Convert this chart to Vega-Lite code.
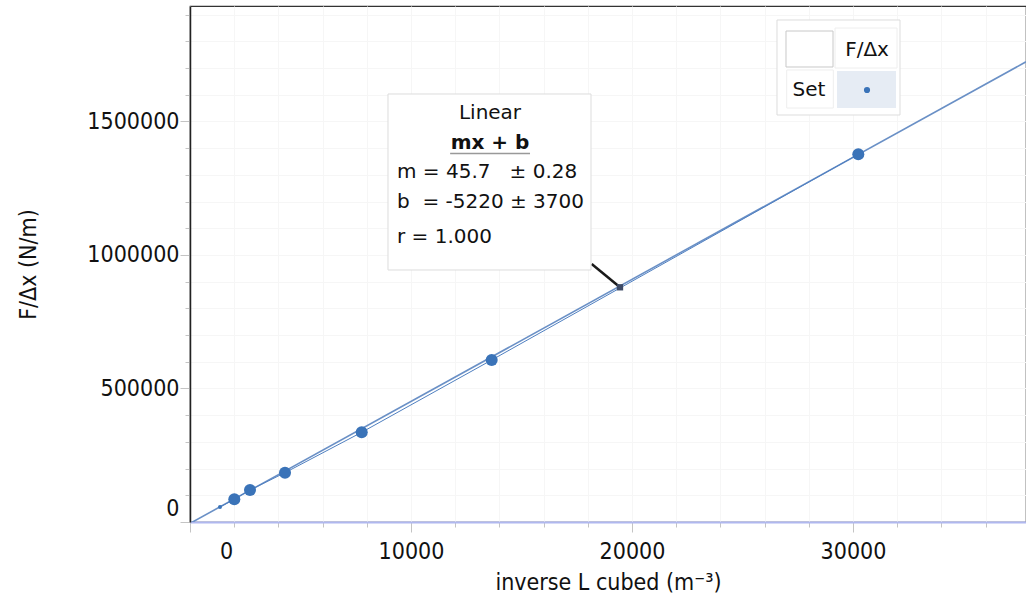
{
  "$schema": "https://vega.github.io/schema/vega-lite/v6.json",
  "width": 836,
  "height": 516,
  "autosize": {"type": "none"},
  "padding": {"left": 190, "top": 6, "right": 0, "bottom": 74},
  "background": "white",
  "config": {"view": {"stroke": "#333333", "strokeWidth": 1.2}, "font": "DejaVu Sans"},
  "encoding": {
    "x": {
      "field": "x", "type": "quantitative",
      "scale": {"domain": [0, 37828], "nice": false, "zero": false},
      "axis": {
        "title": "inverse L cubed (m⁻³)",
        "values": [0, 2000, 4000, 6000, 8000, 10000, 12000, 14000, 16000, 18000, 20000, 22000, 24000, 26000, 28000, 30000, 32000, 34000, 36000],
        "format": "d",
        "labelExpr": "datum.value % 10000 === 0 ? datum.label : ''",
        "labelOverlap": false,
        "labelFlush": false,
        "labelOffset": {"condition": {"test": "datum.value === 0", "value": 36}, "value": 0},
        "labelFont": "DejaVu Sans Condensed", "labelFontSize": 23, "labelColor": "#111111",
        "labelPadding": 8,
        "tickSize": {"condition": {"test": "datum.value % 10000 === 0", "value": 10}, "value": 5},
        "tickColor": "#c4c4c4",
        "domainColor": "#b0b8f0", "domainWidth": 2,
        "grid": true, "gridColor": "#f6f6f6",
        "titleFont": "DejaVu Sans Condensed", "titleFontSize": 23, "titleFontWeight": "normal", "titleColor": "#111111",
        "titlePadding": 8
      }
    },
    "y": {
      "field": "y", "type": "quantitative",
      "scale": {"domain": [0, 1932575], "nice": false, "zero": false},
      "axis": {
        "title": "F/Δx (N/m)",
        "values": [0, 100000, 200000, 300000, 400000, 500000, 600000, 700000, 800000, 900000, 1000000, 1100000, 1200000, 1300000, 1400000, 1500000, 1600000, 1700000, 1800000, 1900000],
        "format": "d",
        "labelExpr": "datum.value % 500000 === 0 ? datum.label : ''",
        "labelOverlap": false,
        "labelFlush": false,
        "labelOffset": {"condition": {"test": "datum.value === 0", "value": -14}, "value": 0},
        "labelFont": "DejaVu Sans Condensed", "labelFontSize": 23, "labelColor": "#111111",
        "labelPadding": 1,
        "tickSize": {"condition": {"test": "datum.value % 500000 === 0", "value": 10}, "value": 5},
        "tickColor": "#c4c4c4",
        "domainColor": "#222222", "domainWidth": 1.5,
        "grid": true, "gridColor": "#f6f6f6",
        "titleFont": "DejaVu Sans Condensed", "titleFontSize": 23, "titleFontWeight": "normal", "titleColor": "#111111",
        "titlePadding": 46
      }
    }
  },
  "layer": [
    {
      "data": {"values": [{"x": 0, "y": -5220}, {"x": 37828, "y": 1723520}]},
      "mark": {"type": "line", "color": "#6a90c6", "strokeWidth": 1.6, "clip": true}
    },
    {
      "data": {"values": [
        {"x": 1357, "y": 56180},
        {"x": 2005, "y": 85000},
        {"x": 2715, "y": 119850},
        {"x": 4299, "y": 184643},
        {"x": 7769, "y": 335953},
        {"x": 13651, "y": 606739},
        {"x": 30240, "y": 1377148}
      ]},
      "mark": {"type": "line", "color": "#4f7fc0", "strokeWidth": 1, "clip": true}
    },
    {
      "data": {"values": [
        {"x": 2005, "y": 85000},
        {"x": 2715, "y": 119850},
        {"x": 4299, "y": 184643},
        {"x": 7769, "y": 335953},
        {"x": 13651, "y": 606739},
        {"x": 30240, "y": 1377148}
      ]},
      "mark": {"type": "circle", "size": 145, "color": "#3a73b8", "opacity": 1}
    },
    {
      "data": {"values": [{"x": 1357, "y": 56180}]},
      "mark": {"type": "circle", "size": 16, "color": "#3a73b8", "opacity": 1}
    },
    {
      "data": {"values": [{"x": 18177, "y": 966287}, {"x": 19457, "y": 879023}]},
      "mark": {"type": "line", "color": "#1a1a1a", "strokeWidth": 2.5}
    },
    {
      "data": {"values": [{"x": 19457, "y": 879023}]},
      "mark": {"type": "point", "shape": "square", "filled": true, "size": 40, "color": "#3d4a66", "opacity": 1}
    },
    {
      "data": {"values": [{"x": 8959, "x2": 18145, "y": 1603000, "y2": 943816}]},
      "mark": {"type": "rect", "fill": "white", "stroke": "#dddddd", "strokeWidth": 1},
      "encoding": {"x2": {"field": "x2"}, "y2": {"field": "y2"}}
    },
    {
      "data": {"values": [{"x": 13575, "y": 1531828, "t": "Linear"}]},
      "mark": {"type": "text", "font": "DejaVu Sans", "fontSize": 20, "align": "center", "baseline": "middle", "color": "#111111"},
      "encoding": {"text": {"field": "t"}}
    },
    {
      "data": {"values": [{"x": 13575, "y": 1419469, "t": "mx + b"}]},
      "mark": {"type": "text", "font": "DejaVu Sans", "fontSize": 20, "fontWeight": "bold", "align": "center", "baseline": "middle", "color": "#111111"},
      "encoding": {"text": {"field": "t"}}
    },
    {
      "data": {"values": [{"x": 11770, "x2": 15385, "y": 1380143}]},
      "mark": {"type": "rule", "color": "#999999", "strokeWidth": 1.5},
      "encoding": {"x2": {"field": "x2"}}
    },
    {
      "data": {"values": [
        {"x": 9367, "y": 1312000, "t": "m = 45.7\u00a0\u00a0\u00a0± 0.28"},
        {"x": 9367, "y": 1199600, "t": "b\u00a0\u00a0= -5220 ± 3700"},
        {"x": 9367, "y": 1068500, "t": "r = 1.000"}
      ]},
      "mark": {"type": "text", "font": "DejaVu Sans", "fontSize": 20, "align": "left", "baseline": "middle", "color": "#111111"},
      "encoding": {"text": {"field": "t"}}
    },
    {
      "data": {"values": [{"x": 26561, "x2": 32127, "y": 1880141, "y2": 1524337}]},
      "mark": {"type": "rect", "fill": "white", "stroke": "#dddddd", "strokeWidth": 1},
      "encoding": {"x2": {"field": "x2"}, "y2": {"field": "y2"}}
    },
    {
      "data": {"values": [
        {"x": 29186, "x2": 31991, "y": 1850178, "y2": 1700366},
        {"x": 27000, "x2": 29109, "y": 1692876, "y2": 1550554}
      ]},
      "mark": {"type": "rect", "fill": "white", "stroke": "#eeeeee", "strokeWidth": 1},
      "encoding": {"x2": {"field": "x2"}, "y2": {"field": "y2"}}
    },
    {
      "data": {"values": [{"x": 26968, "x2": 29095, "y": 1838942, "y2": 1704112}]},
      "mark": {"type": "rect", "fill": "white", "stroke": "#c8c8c8", "strokeWidth": 1},
      "encoding": {"x2": {"field": "x2"}, "y2": {"field": "y2"}}
    },
    {
      "data": {"values": [{"x": 29276, "x2": 31946, "y": 1689130, "y2": 1550554}]},
      "mark": {"type": "rect", "fill": "#e6ecf4", "strokeWidth": 0},
      "encoding": {"x2": {"field": "x2"}, "y2": {"field": "y2"}}
    },
    {
      "data": {"values": [
        {"x": 30634, "y": 1767782, "t": "F/Δx"},
        {"x": 28009, "y": 1617970, "t": "Set"}
      ]},
      "mark": {"type": "text", "font": "DejaVu Sans", "fontSize": 20, "align": "center", "baseline": "middle", "color": "#111111"},
      "encoding": {"text": {"field": "t"}}
    },
    {
      "data": {"values": [{"x": 30634, "y": 1617970}]},
      "mark": {"type": "circle", "size": 38, "color": "#3a73b8", "opacity": 1}
    }
  ]
}
